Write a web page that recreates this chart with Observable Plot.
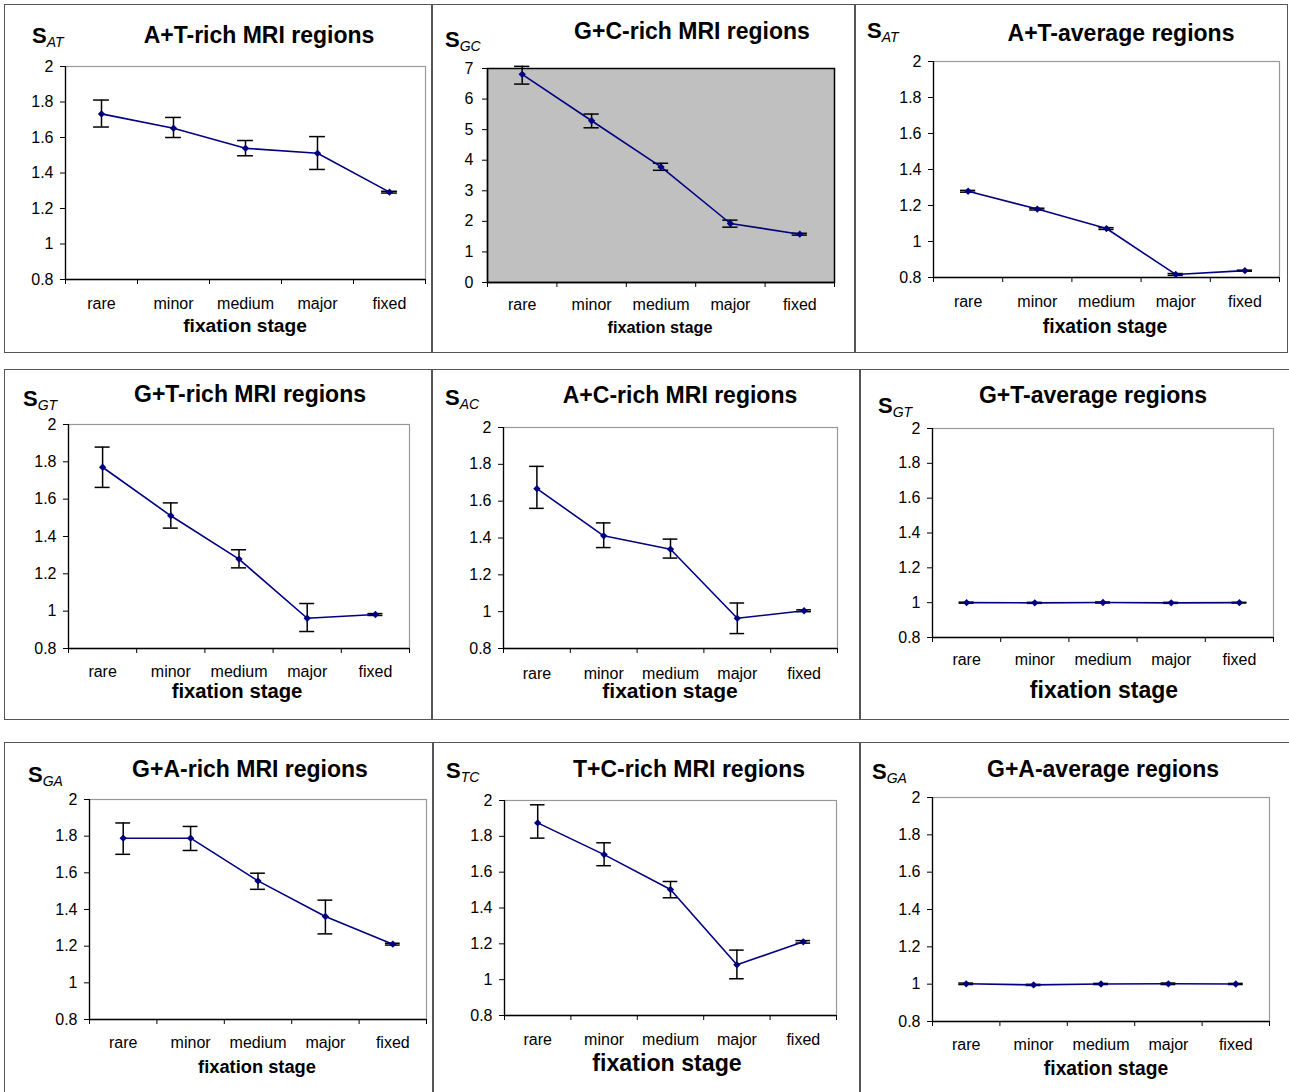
<!DOCTYPE html>
<html><head><meta charset="utf-8">
<script src="https://cdn.jsdelivr.net/npm/d3@7"></script>
<script src="https://cdn.jsdelivr.net/npm/@observablehq/plot@0.6"></script>
<style>
body{margin:0;background:#fff;}
#root{position:relative;width:1289px;height:1092px;overflow:hidden;font-family:"Liberation Sans",Arial,sans-serif;background:#fff;}
.box{position:absolute;border:1.5px solid #555;box-sizing:border-box;}
.t{position:absolute;white-space:nowrap;line-height:1;color:#000;}
.plot{position:absolute;}
</style></head><body><div id="root"></div>
<script>
const stages = ["rare","minor","medium","major","fixed"];
const yTicksRatio = [0.8, 1, 1.2, 1.4, 1.6, 1.8, 2];
const yTicksGC = [0, 1, 2, 3, 4, 5, 6, 7];

const titles = ["A+T-rich MRI regions","G+C-rich MRI regions","A+T-average regions",
  "G+T-rich MRI regions","A+C-rich MRI regions","G+T-average regions",
  "G+A-rich MRI regions","T+C-rich MRI regions","G+A-average regions"];
const subscripts = ["AT","GC","AT","GT","AC","GT","GA","TC","GA"];
const xTitle = "fixation stage";

// A+T-rich
const atRichMean = [1.733, 1.652, 1.539, 1.511, 1.292];
const atRichLow  = [1.659, 1.600, 1.497, 1.420, 1.287];
const atRichHigh = [1.811, 1.713, 1.583, 1.605, 1.297];
// G+C-rich
const gcRichMean = [6.81, 5.29, 3.78, 1.93, 1.58];
const gcRichLow  = [6.49, 5.06, 3.67, 1.81, 1.55];
const gcRichHigh = [7.07, 5.51, 3.90, 2.04, 1.61];
// A+T-average
const atAvgMean = [1.279, 1.180, 1.072, 0.817, 0.838];
const atAvgLow  = [1.274, 1.175, 1.067, 0.812, 0.835];
const atAvgHigh = [1.284, 1.185, 1.077, 0.822, 0.841];
// G+T-rich
const gtRichMean = [1.771, 1.511, 1.279, 0.962, 0.982];
const gtRichLow  = [1.663, 1.445, 1.232, 0.891, 0.977];
const gtRichHigh = [1.879, 1.580, 1.329, 1.041, 0.987];
// A+C-rich
const acRichMean = [1.668, 1.412, 1.339, 0.964, 1.005];
const acRichLow  = [1.561, 1.348, 1.291, 0.881, 1.000];
const acRichHigh = [1.789, 1.482, 1.394, 1.047, 1.010];
// G+T-average
const gtAvgMean = [1.000, 0.999, 1.001, 0.999, 1.000];
const gtAvgLow  = [0.997, 0.996, 0.998, 0.996, 0.998];
const gtAvgHigh = [1.003, 1.002, 1.004, 1.002, 1.002];
// G+A-rich
const gaRichMean = [1.789, 1.789, 1.556, 1.362, 1.211];
const gaRichLow  = [1.701, 1.722, 1.510, 1.267, 1.206];
const gaRichHigh = [1.872, 1.853, 1.598, 1.451, 1.216];
// T+C-rich
const tcRichMean = [1.875, 1.698, 1.503, 1.083, 1.211];
const tcRichLow  = [1.790, 1.636, 1.457, 1.005, 1.204];
const tcRichHigh = [1.976, 1.764, 1.548, 1.165, 1.218];
// G+A-average
const gaAvgMean = [1.002, 0.996, 1.001, 1.002, 1.001];
const gaAvgLow  = [0.998, 0.993, 0.998, 0.998, 0.998];
const gaAvgHigh = [1.006, 0.999, 1.004, 1.006, 1.004];

const series = [
  [atRichMean, atRichLow, atRichHigh],
  [gcRichMean, gcRichLow, gcRichHigh],
  [atAvgMean, atAvgLow, atAvgHigh],
  [gtRichMean, gtRichLow, gtRichHigh],
  [acRichMean, acRichLow, acRichHigh],
  [gtAvgMean, gtAvgLow, gtAvgHigh],
  [gaRichMean, gaRichLow, gaRichHigh],
  [tcRichMean, tcRichLow, tcRichHigh],
  [gaAvgMean, gaAvgLow, gaAvgHigh]
];

// layout (page pixel positions)
const layout = [
  {box:[5,5,432,352],    frame:[65,66,425,279],   title:[259,43],  s:[32,44],   xl:[245,332,19.2], xt:308},
  {box:[432,5,855,352],  frame:[487,68,834,282],  title:[692,39],  s:[445,48],  xl:[660,333,16.3], xt:309.5, fill:"#c0c0c0", yPad:9},
  {box:[855,5,1287,352], frame:[933,61,1279,277], title:[1121,41], s:[867,39],  xl:[1105,333,19.3], xt:306},
  {box:[5,370,432,719],  frame:[68,424,409,648],  title:[250,402], s:[23,407],  xl:[237,698,20.3], xt:676},
  {box:[432,370,860,719],frame:[503,427,837,648], title:[680,403], s:[445,406], xl:[670,698,21], xt:678},
  {box:[860,370,1289,719],frame:[932,428,1273,637],title:[1093,403],s:[878,414], xl:[1104,698,23], xt:664},
  {box:[5,743,433,1093], frame:[89,799,426,1019], title:[250,777], s:[28,783],  xl:[257,1073,18.3], xt:1047},
  {box:[433,743,860,1093],frame:[504,800,836,1015],title:[689,777], s:[446,779], xl:[667,1072,23.2], xt:1044},
  {box:[860,743,1289,1093],frame:[932,797,1269,1021],title:[1103,777],s:[872,780],xl:[1106,1075,19.3], xt:1049}
];

const root = document.getElementById("root");
const ASC = 0.8465;

function addText(html, x, base, fs, bold, center) {
  const d = document.createElement("div");
  d.className = "t";
  d.style.fontSize = fs + "px";
  d.style.fontWeight = bold ? "bold" : "normal";
  d.style.top = (base - ASC * fs) + "px";
  d.style.left = x + "px";
  if (center) d.style.transform = "translateX(-50%)";
  d.innerHTML = html;
  root.appendChild(d);
}

layout.forEach((cfg, k) => {
  const [bx1, by1, bx2, by2] = cfg.box;
  const [fx1, fy1, fx2, fy2] = cfg.frame;
  const box = document.createElement("div");
  box.className = "box";
  Object.assign(box.style, {left: (bx1 - 1) + "px", top: (by1 - 1) + "px", width: (bx2 - bx1 + 2) + "px", height: (by2 - by1 + 2) + "px"});
  root.appendChild(box);

  const [mean, low, high] = series[k];
  const rows = stages.map((s, i) => ({stage: s, xi: i + 0.5, v: mean[i], lo: low[i], hi: high[i]}));
  const isGC = k === 1;
  const yDomain = isGC ? [0, 7] : [0.8, 2];
  const yTicks = isGC ? yTicksGC : yTicksRatio;
  const cap = 0.11;
  const xfs = 16;

  const plot = Plot.plot({
    width: bx2 - bx1, height: by2 - by1,
    marginLeft: fx1 - bx1, marginRight: bx2 - fx2, marginTop: fy1 - by1, marginBottom: by2 - fy2,
    style: {fontFamily: "Liberation Sans, Arial, sans-serif", fontSize: "16px", background: "transparent", color: "#000", overflow: "visible"},
    x: {domain: [0, 5]},
    y: {domain: yDomain},
    marks: [
      Plot.frame({fill: cfg.fill || "none", stroke: cfg.fill ? "#000" : "#999", strokeWidth: cfg.fill ? 1.5 : 1.2}),
      Plot.ruleX([0], {stroke: "#000", strokeWidth: 1.3}),
      Plot.ruleY([yDomain[0]], {stroke: "#000", strokeWidth: 1.3}),
      Plot.axisY({ticks: yTicks, tickSize: 5, tickPadding: cfg.yPad ?? 7, tickFormat: d => String(d), label: null, fontSize: 16}),
      Plot.axisX({ticks: stages.map((s, i) => i + 0.5), tickSize: 0, tickPadding: cfg.xt - fy2 - 0.71 * xfs, tickFormat: d => stages[Math.floor(d)], label: null, fontSize: xfs}),
      Plot.axisX({ticks: [0, 1, 2, 3, 4, 5], tickSize: 5, tickFormat: () => "", label: null}),
      Plot.ruleX(rows, {x: "xi", y1: "lo", y2: "hi", stroke: "#000", strokeWidth: 1.5}),
      Plot.ruleY(rows, {y: "lo", x1: d => d.xi - cap, x2: d => d.xi + cap, stroke: "#000", strokeWidth: 1.5}),
      Plot.ruleY(rows, {y: "hi", x1: d => d.xi - cap, x2: d => d.xi + cap, stroke: "#000", strokeWidth: 1.5}),
      Plot.line(rows, {x: "xi", y: "v", stroke: "#000080", strokeWidth: 1.6}),
      Plot.dot(rows, {x: "xi", y: "v", symbol: "diamond2", r: 3.3, fill: "#000080", stroke: "none"})
    ]
  });
  plot.classList.add("plot");
  plot.style.left = bx1 + "px";
  plot.style.top = by1 + "px";
  root.appendChild(plot);

  addText(titles[k], cfg.title[0], cfg.title[1], 23, true, true);
  addText('S<span style="font-size:14px;font-style:italic;font-weight:normal;position:relative;top:4px;">' + subscripts[k] + '</span>', cfg.s[0], cfg.s[1], 22, true, false);
  addText(xTitle, cfg.xl[0], cfg.xl[1], cfg.xl[2], true, true);
});
</script></body></html>
